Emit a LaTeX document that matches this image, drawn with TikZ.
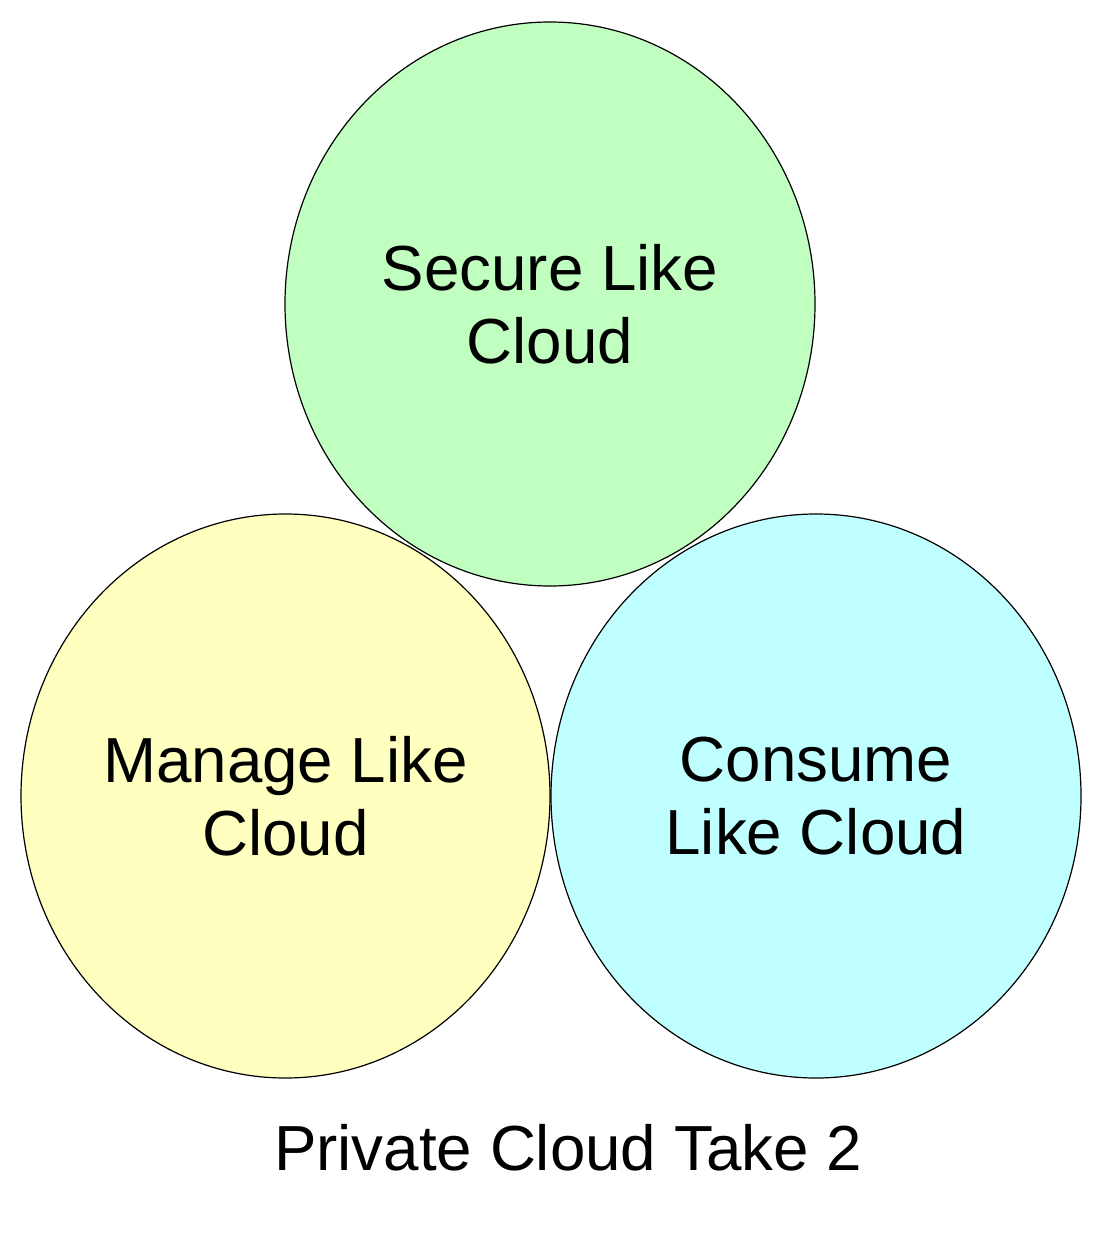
\documentclass[tikz,border=0pt]{standalone}
\usepackage{fontspec}
\setmainfont{Liberation Sans}
\begin{document}
\begin{tikzpicture}[x=1pt,y=-1pt,
  blob/.style={draw=black, line width=1.2pt},
  lbl/.style={align=center, font=\fontsize{63.7}{73}\selectfont, inner sep=0pt}]
\useasboundingbox (0,0) rectangle (1102,1236);
\draw[blob, fill={rgb,255:red,192;green,255;blue,192}] (550,304) ellipse [x radius=265, y radius=282];
\draw[blob, fill={rgb,255:red,255;green,255;blue,192}] (285.5,796) ellipse [x radius=264.5, y radius=282];
\draw[blob, fill={rgb,255:red,192;green,255;blue,255}] (816,796) ellipse [x radius=265, y radius=282];
\node[lbl] (secure) at (550,304) {Secure Like\\Cloud};
\node[lbl] (manage) at (285.5,796) {Manage Like\\Cloud};
\node[lbl] (consume) at (816,796) {Consume\\Like Cloud};
\node[lbl] (title) at (568,1148) {Private Cloud Take 2};
\end{tikzpicture}
\end{document}
